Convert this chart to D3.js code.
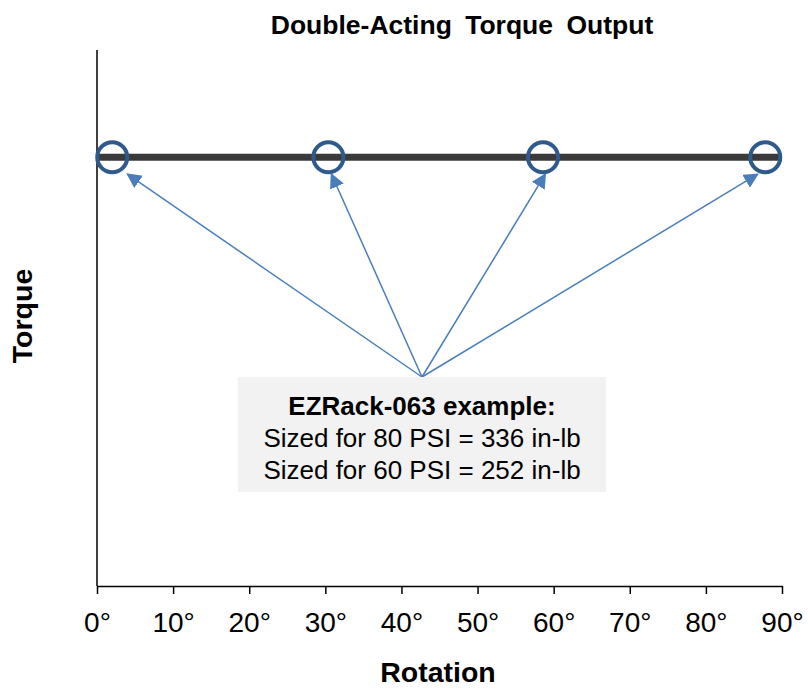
<!DOCTYPE html>
<html>
<head>
<meta charset="utf-8">
<script src="https://cdn.jsdelivr.net/npm/d3@7"></script>
<style>
  body { margin: 0; background: #fff; }
  text { font-family: "Liberation Sans", Arial, sans-serif; fill: #000; }
</style>
</head>
<body>
<svg width="808" height="692"></svg>
<script>
const svg = d3.select('svg');

// data
const xTicks = [0, 10, 20, 30, 40, 50, 60, 70, 80, 90];
const torqueLine = [{rot: 0, torque: 336}, {rot: 90, torque: 336}];
const markers = [2, 30.4, 58.6, 87.8];          // rotation of circled points
const arrowTips = [4, 30.8, 58.9, 86.8];        // where the arrows end (deg)
const noteLines = ['EZRack-063 example:', 'Sized for 80 PSI = 336 in-lb', 'Sized for 60 PSI = 252 in-lb'];

const margin = {left: 97, right: 26, top: 50, bottom: 106};
const width = 808, height = 692;

const x = d3.scaleLinear().domain([0, 90]).range([margin.left, width - margin.right]);
const y = d3.scaleLinear().domain([0, 420]).range([height - margin.bottom, margin.top]);

// title
svg.append('text')
  .attr('x', 462).attr('y', 34)
  .attr('text-anchor', 'middle')
  .attr('font-size', 26.5).attr('font-weight', 'bold')
  .attr('word-spacing', 6)
  .text('Double-Acting Torque Output');

// axes
svg.append('line')
  .attr('x1', x(0)).attr('x2', x(0))
  .attr('y1', y.range()[1]).attr('y2', y(0))
  .attr('stroke', '#000').attr('stroke-width', 1.5);

const xAxis = svg.append('g')
  .attr('transform', `translate(0,${y(0)})`)
  .call(d3.axisBottom(x).tickValues(xTicks).tickSize(8).tickSizeOuter(0).tickFormat(d => d + '°'));
xAxis.select('.domain').attr('stroke', '#000').attr('stroke-width', 1.5);
xAxis.selectAll('.tick line').attr('stroke', '#000').attr('stroke-width', 1.5);
xAxis.selectAll('.tick text')
  .attr('y', 46).attr('dy', 0)
  .attr('font-size', 28)
  .attr('font-family', '"Liberation Sans", Arial, sans-serif');

// axis titles
svg.append('text')
  .attr('x', 438).attr('y', 682)
  .attr('text-anchor', 'middle')
  .attr('font-size', 28.5).attr('font-weight', 'bold')
  .text('Rotation');

svg.append('text')
  .attr('transform', `translate(32,316) rotate(-90)`)
  .attr('text-anchor', 'middle')
  .attr('font-size', 28.5).attr('font-weight', 'bold')
  .text('Torque');

// torque line
const line = d3.line().x(d => x(d.rot)).y(d => y(d.torque));
svg.append('path')
  .datum(torqueLine)
  .attr('d', line)
  .attr('fill', 'none')
  .attr('stroke', '#3a3a3a')
  .attr('stroke-width', 7);

// circles
svg.selectAll('circle.mark')
  .data(markers)
  .enter()
  .append('circle')
  .attr('class', 'mark')
  .attr('cx', d => x(d))
  .attr('cy', y(336))
  .attr('r', 15)
  .attr('fill', 'none')
  .attr('stroke', '#2f5a8c')
  .attr('stroke-width', 4);

// annotation box
const box = {x0: 238, x1: 606, y0: 377, y1: 492};
const cx = (box.x0 + box.x1) / 2;

svg.append('defs').append('marker')
  .attr('id', 'arrow')
  .attr('viewBox', '0 0 10 10')
  .attr('refX', 9).attr('refY', 5)
  .attr('markerWidth', 15).attr('markerHeight', 15)
  .attr('markerUnits', 'userSpaceOnUse')
  .attr('orient', 'auto')
  .append('path')
  .attr('d', 'M0,0 L10,5 L0,10 Z')
  .attr('fill', '#4a7ebb');

svg.selectAll('line.arrow')
  .data(arrowTips)
  .enter()
  .append('line')
  .attr('class', 'arrow')
  .attr('x1', cx).attr('y1', box.y0)
  .attr('x2', d => x(d)).attr('y2', y(336) + 17)
  .attr('stroke', '#4a7ebb')
  .attr('stroke-width', 1.5)
  .attr('marker-end', 'url(#arrow)');

svg.append('rect')
  .attr('x', box.x0).attr('y', box.y0)
  .attr('width', box.x1 - box.x0).attr('height', box.y1 - box.y0)
  .attr('fill', '#f2f2f2');

svg.selectAll('text.note')
  .data(noteLines)
  .enter()
  .append('text')
  .attr('class', 'note')
  .attr('x', cx)
  .attr('y', (d, i) => 415 + i * 32)
  .attr('text-anchor', 'middle')
  .attr('font-size', 26)
  .attr('font-weight', (d, i) => i === 0 ? 'bold' : 'normal')
  .text(d => d);
</script>
</body>
</html>
